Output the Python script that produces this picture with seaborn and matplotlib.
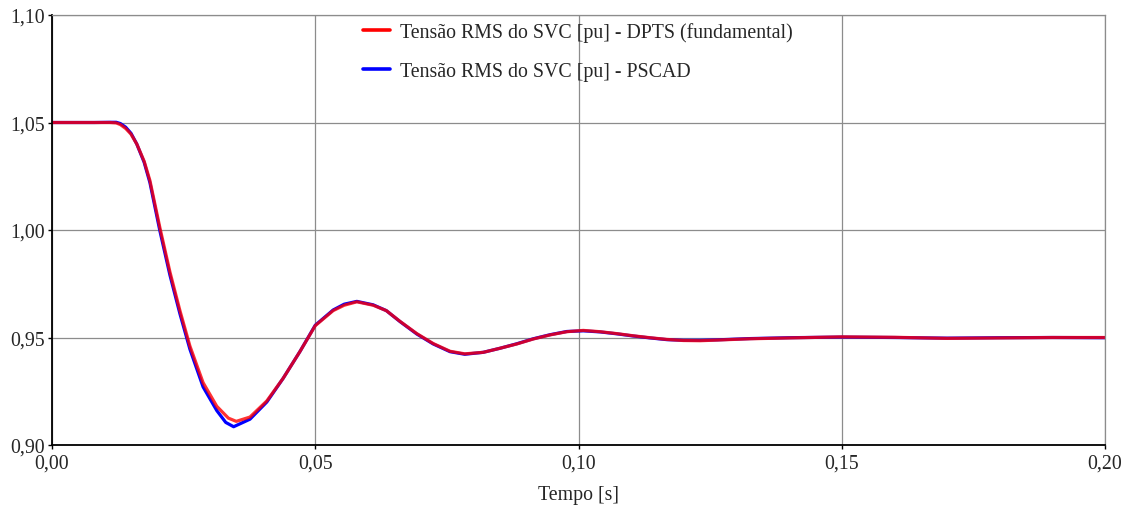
import numpy as np
import pandas as pd
import matplotlib
matplotlib.use("Agg")
import matplotlib.pyplot as plt
from matplotlib.ticker import FuncFormatter
from matplotlib.lines import Line2D
import seaborn as sns

# ---- data ----
t_dpts = [0.000, 0.004, 0.008, 0.0110, 0.0122, 0.0130, 0.0140, 0.0150, 0.0161, 0.0175,
          0.0186, 0.0205, 0.0224, 0.0243, 0.0262, 0.0287, 0.0313, 0.0335, 0.0350,
          0.0376, 0.0408, 0.0439, 0.0471, 0.0500, 0.0534, 0.0555, 0.0579, 0.0610,
          0.0635, 0.0661, 0.0693, 0.0724, 0.0756, 0.0784, 0.0819, 0.0851, 0.0883,
          0.0914, 0.0946, 0.0978, 0.1009, 0.1041, 0.1073, 0.1104, 0.1136, 0.1168,
          0.1199, 0.1231, 0.1263, 0.1294, 0.1326, 0.140, 0.150, 0.160, 0.170,
          0.180, 0.190, 0.200]
v_dpts = [1.0500, 1.0500, 1.0500, 1.0500, 1.0498, 1.0490, 1.0472, 1.0446, 1.0400, 1.0320,
          1.0230, 1.0010, 0.9805, 0.9625, 0.9460, 0.9290, 0.9180, 0.9125, 0.9110,
          0.9130, 0.9205, 0.9310, 0.9435, 0.9555, 0.9625, 0.9650, 0.9666, 0.9650,
          0.9625, 0.9575, 0.9518, 0.9472, 0.9436, 0.9424, 0.9431, 0.9450, 0.9470,
          0.9493, 0.9512, 0.9527, 0.9533, 0.9527, 0.9518, 0.9508, 0.9499, 0.9491,
          0.9486, 0.9485, 0.9488, 0.9491, 0.9494, 0.9498, 0.9503, 0.9501, 0.9496,
          0.9498, 0.9500, 0.9500]

t_pscad = [0.000, 0.004, 0.008, 0.0110, 0.0122, 0.0130, 0.0140, 0.0150, 0.0161, 0.0175,
           0.0186, 0.0205, 0.0224, 0.0243, 0.0262, 0.0287, 0.0313, 0.0330, 0.0345,
           0.0376, 0.0408, 0.0439, 0.0471, 0.0500, 0.0534, 0.0555, 0.0579, 0.0610,
           0.0635, 0.0661, 0.0693, 0.0724, 0.0756, 0.0784, 0.0819, 0.0851, 0.0883,
           0.0914, 0.0946, 0.0978, 0.1009, 0.1041, 0.1073, 0.1104, 0.1136, 0.1168,
           0.1199, 0.1231, 0.1263, 0.1294, 0.1326, 0.140, 0.150, 0.160, 0.170,
           0.180, 0.190, 0.200]
v_pscad = [1.0500, 1.0500, 1.0500, 1.0501, 1.0501, 1.0495, 1.0478, 1.0450, 1.0400, 1.0315,
           1.0220, 0.9995, 0.9790, 0.9610, 0.9445, 0.9270, 0.9160, 0.9105, 0.9085,
           0.9120, 0.9200, 0.9310, 0.9435, 0.9557, 0.9628, 0.9655, 0.9668, 0.9652,
           0.9625, 0.9574, 0.9516, 0.9470, 0.9434, 0.9422, 0.9431, 0.9450, 0.9471,
           0.9494, 0.9513, 0.9528, 0.9531, 0.9526, 0.9517, 0.9507, 0.9498, 0.9490,
           0.9487, 0.9487, 0.9489, 0.9492, 0.9495, 0.9499, 0.9502, 0.9500, 0.9497,
           0.9499, 0.9500, 0.9499]

labels = ["Tensão RMS do SVC [pu] - DPTS (fundamental)",
          "Tensão RMS do SVC [pu] - PSCAD"]
colors = ["#ff0000", "#0000ff"]

x_ticks = [0.00, 0.05, 0.10, 0.15, 0.20]
y_ticks = [0.90, 0.95, 1.00, 1.05, 1.10]

df = pd.concat([
    pd.DataFrame({"t": t_dpts, "v": v_dpts, "serie": labels[0]}),
    pd.DataFrame({"t": t_pscad, "v": v_pscad, "serie": labels[1]}),
], ignore_index=True)

sns.set_style("white")
plt.rcParams["font.family"] = ["Liberation Serif", "DejaVu Serif"]
FS = 14.3

fig = plt.figure(figsize=(11.28, 5.06), dpi=100)
ax = fig.add_axes([52 / 1128, 60 / 506, (1105 - 52) / 1128, (446 - 16) / 506])

# draw PSCAD first, then DPTS on top
sns.lineplot(data=df[df.serie == labels[1]], x="t", y="v", color=colors[1],
             linewidth=2.3, ax=ax, legend=False, estimator=None)
sns.lineplot(data=df[df.serie == labels[0]], x="t", y="v", color=colors[0],
             linewidth=2.3, alpha=0.8, ax=ax, legend=False, estimator=None)

ax.set_xlim(x_ticks[0], x_ticks[-1])
ax.set_ylim(y_ticks[0], y_ticks[-1])
ax.set_xticks(x_ticks)
ax.set_yticks(y_ticks)
fmt = FuncFormatter(lambda v, p: f"{v:.2f}".replace(".", ","))
ax.xaxis.set_major_formatter(fmt)
ax.yaxis.set_major_formatter(fmt)
ax.tick_params(axis="both", labelsize=FS, length=3, width=1, direction="out",
               color="black", left=True, bottom=True)
ax.tick_params(axis="x", pad=3)
ax.tick_params(axis="y", pad=2)
ax.grid(True, color="#8c8c8c", linewidth=0.9)
ax.set_axisbelow(True)
for s in ["top", "right"]:
    ax.spines[s].set_color("#8c8c8c")
    ax.spines[s].set_linewidth(0.9)
for s in ["left", "bottom"]:
    ax.spines[s].set_color("black")
    ax.spines[s].set_linewidth(1.3)
ax.set_xlabel("Tempo [s]", fontsize=FS, labelpad=9)
ax.set_ylabel("")

handles = [Line2D([], [], color=c, linewidth=2.6) for c in colors]
leg = ax.legend(handles, labels, loc="upper left",
                bbox_to_anchor=((363 - 52) / 1053, 1 - 7 / 430),
                frameon=False, fontsize=FS, handlelength=1.36, handletextpad=0.5,
                labelspacing=1.0, borderpad=0, borderaxespad=0)

fig.savefig("out.png", dpi=100)
